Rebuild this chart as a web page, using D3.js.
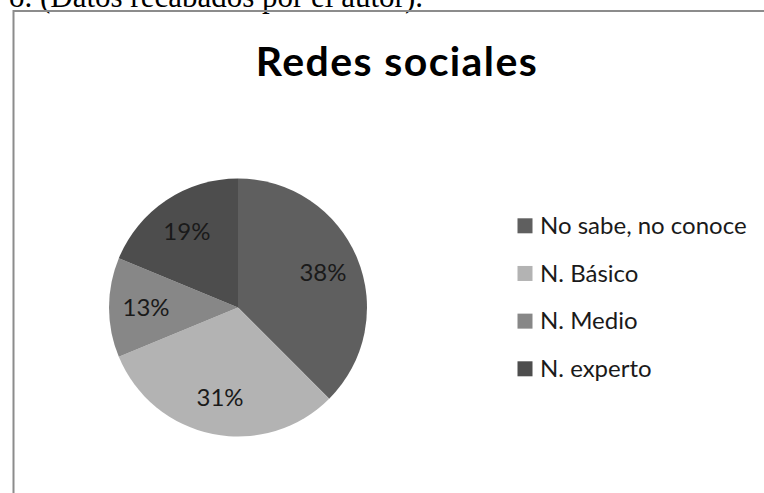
<!DOCTYPE html>
<html>
<head>
<meta charset="utf-8">
<script src="https://cdn.jsdelivr.net/npm/d3@7"></script>
<style>
  html, body { margin: 0; padding: 0; background: #fff; }
  svg { display: block; }
</style>
</head>
<body>
<svg id="chart" width="764" height="493"></svg>
<script>
// ---- data ----
const categories = ["No sabe, no conoce", "N. Básico", "N. Medio", "N. experto"];
const shares = [37.5, 31.25, 12.5, 18.75];
const colors = ["#5f5f5f", "#b3b3b3", "#878787", "#4d4d4d"];
const title = "Redes sociales";
const caption = "o. (Datos recabados por el autor).";

const svg = d3.select("#chart");
const W = 764, H = 493;

// caption (cut off at top, as in the source page)
svg.append("text")
  .attr("x", 423).attr("y", 7)
  .attr("text-anchor", "end")
  .attr("font-family", "Liberation Serif, Times New Roman, serif")
  .attr("font-size", 31)
  .attr("fill", "#000")
  .text(caption);

// frame
svg.append("path")
  .attr("d", d3.line()([[13.5, H + 2], [13.5, 11], [W + 2, 11]]))
  .attr("fill", "none")
  .attr("stroke", "#8c8c8c")
  .attr("stroke-width", 2);

// title
svg.append("text")
  .attr("x", 397).attr("y", 76)
  .attr("text-anchor", "middle")
  .attr("font-family", "Lato, sans-serif")
  .attr("font-weight", "bold")
  .attr("font-size", 41)
  .attr("letter-spacing", 1.4)
  .attr("fill", "#000")
  .text(title);

// pie
const cx = 238, cy = 307.5, R = 129;
const data = categories.map((c, i) => ({ name: c, value: shares[i], color: colors[i] }));
const pie = d3.pie().value(d => d.value).sort(null);
const arcs = pie(data);
const arc = d3.arc().innerRadius(0).outerRadius(R);
const labelArc = d3.arc().innerRadius(92).outerRadius(92);
const total = d3.sum(shares);

const g = svg.append("g").attr("transform", `translate(${cx},${cy})`);
g.selectAll("path.slice").data(arcs).join("path")
  .attr("class", "slice")
  .attr("d", arc)
  .attr("fill", d => d.data.color);

g.selectAll("text.lbl").data(arcs).join("text")
  .attr("class", "lbl")
  .attr("x", d => labelArc.centroid(d)[0])
  .attr("y", d => labelArc.centroid(d)[1] + 8.5)
  .attr("text-anchor", "middle")
  .attr("font-family", "Lato, sans-serif")
  .attr("font-size", 24)
  .attr("fill", "#1a1a1a")
  .text(d => Math.round(d.data.value / total * 100) + "%");

// legend
const legY = d3.scalePoint().domain(categories).range([234, 377]);
const leg = svg.append("g");
const items = leg.selectAll("g").data(data).join("g")
  .attr("transform", d => `translate(0,${legY(d.name)})`);
items.append("rect")
  .attr("x", 517.5).attr("y", -15.7)
  .attr("width", 15).attr("height", 15)
  .attr("fill", d => d.color);
items.append("text")
  .attr("x", 540).attr("y", 0)
  .attr("font-family", "Lato, sans-serif")
  .attr("font-size", 24)
  .attr("fill", "#1a1a1a")
  .text(d => d.name);
</script>
</body>
</html>
